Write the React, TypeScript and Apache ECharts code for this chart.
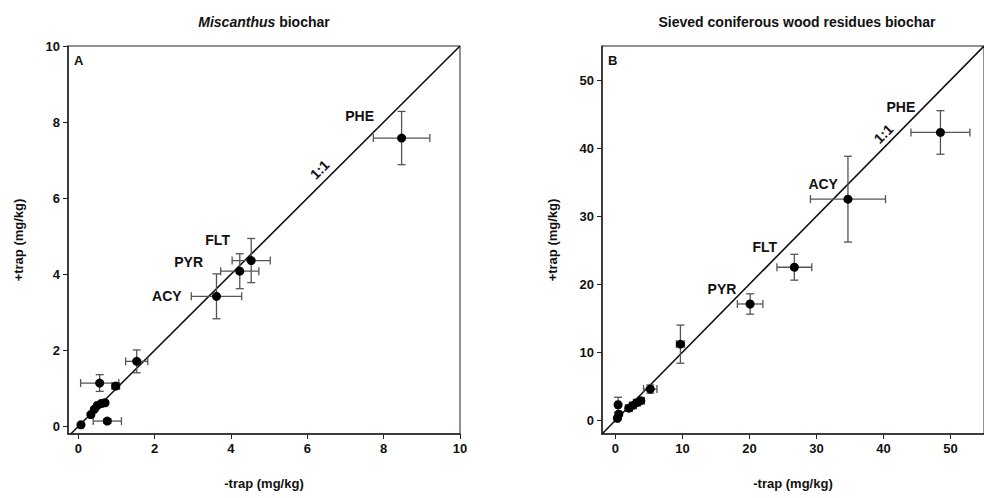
import React, { useEffect, useRef } from "react";
import * as echarts from "echarts";

// Panel A: Miscanthus biochar  (x = -trap, y = +trap, mg/kg)
const miscX = [0.07, 0.33, 0.42, 0.5, 0.6, 0.7, 0.56, 0.76, 0.98, 1.53, 3.62, 4.23, 4.53, 8.47];
const miscY = [0.04, 0.31, 0.45, 0.55, 0.6, 0.62, 1.14, 0.14, 1.06, 1.71, 3.42, 4.08, 4.36, 7.58];
const miscXErr = [0.05, 0.05, 0.05, 0.05, 0.05, 0.05, 0.5, 0.37, 0.1, 0.29, 0.66, 0.5, 0.5, 0.74];
const miscYErr = [0.03, 0.05, 0.05, 0.05, 0.05, 0.05, 0.22, 0.06, 0.08, 0.3, 0.59, 0.46, 0.58, 0.7];

// Panel B: Sieved coniferous wood residues biochar
const woodX = [0.3, 0.5, 0.4, 2.0, 2.6, 3.2, 3.8, 5.2, 9.7, 20.1, 26.7, 34.7, 48.5];
const woodY = [0.3, 0.9, 2.3, 1.8, 2.2, 2.6, 2.9, 4.6, 11.2, 17.1, 22.5, 32.5, 42.3];
const woodXErr = [0.3, 0.3, 0.3, 0.5, 0.5, 0.5, 0.5, 1.0, 0.6, 1.9, 2.6, 5.6, 4.4];
const woodYErr = [0.3, 0.3, 1.1, 0.4, 0.4, 0.4, 0.4, 0.6, 2.8, 1.5, 1.9, 6.3, 3.2];

const miscTicks = [0, 2, 4, 6, 8, 10];
const woodTicks = [0, 10, 20, 30, 40, 50];

const compoundNames = ["PHE", "FLT", "PYR", "ACY"];
const miscLabelX = [7.37, 3.65, 2.89, 2.32];
const miscLabelY = [8.16, 4.91, 4.31, 3.44];
const woodLabelX = [42.6, 22.3, 15.9, 31.0];
const woodLabelY = [46.1, 25.4, 19.3, 34.8];
const oneToOneMisc = [6.32, 6.75];
const oneToOneWood = [40.0, 42.1];

const FONT = "'Liberation Sans', Arial, sans-serif";
const INK = "#111111";

function errorSeries(xIdx: number, xs: number[], ys: number[], ex: number[], ey: number[]) {
  return {
    type: "custom",
    xAxisIndex: xIdx,
    yAxisIndex: xIdx,
    z: 2,
    silent: true,
    encode: { x: 0, y: 1 },
    data: xs.map((x, i) => [x, ys[i], ex[i], ey[i]]),
    renderItem: (params: any, api: any) => {
      const x = api.value(0);
      const y = api.value(1);
      const dx = api.value(2);
      const dy = api.value(3);
      const l = api.coord([x - dx, y]);
      const r = api.coord([x + dx, y]);
      const t = api.coord([x, y + dy]);
      const b = api.coord([x, y - dy]);
      const cap = 4;
      const style = { stroke: "#555555", lineWidth: 1.3, fill: null };
      const seg = (x1: number, y1: number, x2: number, y2: number) => ({
        type: "line",
        shape: { x1, y1, x2, y2 },
        style,
      });
      return {
        type: "group",
        children: [
          seg(l[0], l[1], r[0], r[1]),
          seg(l[0], l[1] - cap, l[0], l[1] + cap),
          seg(r[0], r[1] - cap, r[0], r[1] + cap),
          seg(t[0], t[1], b[0], b[1]),
          seg(t[0] - cap, t[1], t[0] + cap, t[1]),
          seg(b[0] - cap, b[1], b[0] + cap, b[1]),
        ],
      };
    },
  };
}

function labelSeries(idx: number, xs: number[], ys: number[], one: number[]) {
  const data: any[] = compoundNames.map((n, i) => ({ name: n, value: [xs[i], ys[i]] }));
  data.push({
    name: "1:1",
    value: one,
    label: { rotate: 45 },
  });
  return {
    type: "scatter",
    xAxisIndex: idx,
    yAxisIndex: idx,
    symbolSize: 0,
    silent: true,
    z: 5,
    itemStyle: { opacity: 1 },
    data,
    label: {
      show: true,
      position: "inside",
      formatter: "{b}",
      fontFamily: FONT,
      fontWeight: "bold",
      fontSize: 14,
      color: INK,
      opacity: 1,
    },
  };
}

function axis(min: number, max: number, ticks: number[], gridIndex: number, name: string, isY: boolean, gap: number) {
  return {
    type: "value",
    gridIndex,
    min,
    max,
    name,
    nameLocation: "middle",
    nameGap: gap,
    nameRotate: isY ? 90 : 0,
    nameTextStyle: { fontFamily: FONT, fontWeight: "bold", fontSize: 13, color: INK },
    axisLine: { show: true, onZero: false, lineStyle: { color: "#222", width: 1.5 } },
    axisTick: { show: true, inside: false, length: 5, customValues: ticks, lineStyle: { color: "#222", width: 1 } },
    axisLabel: {
      show: true,
      customValues: ticks,
      fontFamily: FONT,
      fontWeight: "bold",
      fontSize: 13,
      color: INK,
      margin: 8,
    },
    splitLine: { show: false },
  };
}

export default function App() {
  const ref = useRef<HTMLDivElement>(null);
  useEffect(() => {
    if (!ref.current) return;
    const chart = echarts.init(ref.current, null, { renderer: "svg" });
    const option: any = {
      animation: false,
      backgroundColor: "#ffffff",
      grid: [
        { left: 68, top: 46, width: 392, height: 388, show: true, borderColor: "#222", borderWidth: 1 },
        { left: 602, top: 46, width: 388, height: 388, show: true, borderColor: "#222", borderWidth: 1 },
      ],
      xAxis: [
        axis(-0.27, 10, miscTicks, 0, "-trap (mg/kg)", false, 43),
        axis(-2, 55, woodTicks, 1, "-trap (mg/kg)", false, 43),
      ],
      yAxis: [
        axis(-0.2, 10, miscTicks, 0, "+trap (mg/kg)", true, 43),
        axis(-2, 55, woodTicks, 1, "+trap (mg/kg)", true, 43),
      ],
      graphic: [
        {
          type: "text",
          x: 264,
          y: 22,
          style: {
            text: "{i|Miscanthus} biochar",
            align: "center",
            verticalAlign: "middle",
            font: `bold 14px ${FONT}`,
            fill: INK,
            rich: { i: { fontStyle: "italic", fontWeight: "bold", fontSize: 14, fontFamily: FONT, fill: INK } },
          },
        },
        {
          type: "text",
          x: 797,
          y: 22,
          style: {
            text: "Sieved coniferous wood residues biochar",
            align: "center",
            verticalAlign: "middle",
            font: `bold 14px ${FONT}`,
            fill: INK,
          },
        },
        {
          type: "text",
          x: 74,
          y: 60,
          style: { text: "A", verticalAlign: "middle", font: `bold 13px ${FONT}`, fill: INK },
        },
        {
          type: "text",
          x: 608,
          y: 60,
          style: { text: "B", verticalAlign: "middle", font: `bold 13px ${FONT}`, fill: INK },
        },
      ],
      series: [
        {
          type: "line",
          xAxisIndex: 0,
          yAxisIndex: 0,
          data: [[-0.2, -0.2], [10, 10]],
          symbol: "none",
          lineStyle: { color: "#111", width: 1.6 },
          z: 1,
          silent: true,
        },
        {
          type: "line",
          xAxisIndex: 1,
          yAxisIndex: 1,
          data: [[-2, -2], [55, 55]],
          symbol: "none",
          lineStyle: { color: "#111", width: 1.6 },
          z: 1,
          silent: true,
        },
        errorSeries(0, miscX, miscY, miscXErr, miscYErr),
        errorSeries(1, woodX, woodY, woodXErr, woodYErr),
        {
          type: "scatter",
          xAxisIndex: 0,
          yAxisIndex: 0,
          symbol: "circle",
          symbolSize: 9,
          itemStyle: { color: "#000", opacity: 1 },
          z: 3,
          data: miscX.map((x, i) => [x, miscY[i]]),
        },
        {
          type: "scatter",
          xAxisIndex: 1,
          yAxisIndex: 1,
          symbol: "circle",
          symbolSize: 9,
          itemStyle: { color: "#000", opacity: 1 },
          z: 3,
          data: woodX.map((x, i) => [x, woodY[i]]),
        },
        labelSeries(0, miscLabelX, miscLabelY, oneToOneMisc),
        labelSeries(1, woodLabelX, woodLabelY, oneToOneWood),
      ],
    };
    chart.setOption(option);
    return () => chart.dispose();
  }, []);
  return (
    <div
      ref={ref}
      style={{ position: "absolute", left: 0, top: 0, width: 984, height: 498, background: "#fff" }}
    />
  );
}
